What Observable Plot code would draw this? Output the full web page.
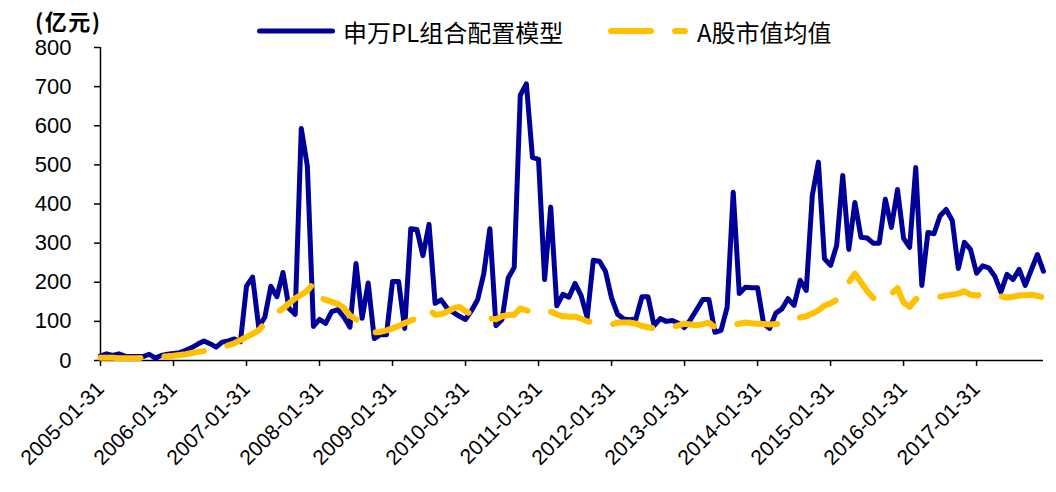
<!DOCTYPE html>
<html><head><meta charset="utf-8">
<script src="https://cdn.jsdelivr.net/npm/d3@7"></script>
<script src="https://cdn.jsdelivr.net/npm/@observablehq/plot@0.6"></script>
<style>
body{margin:0;background:#fff;}
#wrap{position:relative;width:1056px;height:492px;overflow:hidden;}
.t{position:absolute;font-family:"Noto Sans CJK SC","Liberation Sans",sans-serif;color:#000;line-height:1;white-space:nowrap;}
.s{position:absolute;}
</style></head><body><div id="wrap"></div>
<script>
// Series names
const seriesNames = ["申万PL组合配置模型", "A股市值均值"];
const unitLabel = "(亿元)";
// Monthly categories: month index 0 = 2005-01-31 ... 155 = 2017-12-31
const months = d3.utcMonth.range(new Date(Date.UTC(2005,0,1)), new Date(Date.UTC(2018,0,1)));
// 申万PL组合配置模型 (亿元), monthly
const modelValues = [
  12, 17, 13, 17, 11, 10, 10, 10, 16, 6, 13, 16, 18, 20, 26, 33, 42,
  50, 43, 34, 47, 50, 55, 48, 190, 213, 86, 110, 190, 163, 225, 133, 118, 593, 497, 87,
  105, 95, 125, 130, 111, 85, 248, 108, 198, 56, 66, 66, 202, 202, 82, 337, 335, 268, 348, 146,
  155, 133, 123, 113, 105, 128, 156, 222, 337, 89, 105, 210, 238, 678, 707, 519, 514, 207, 392, 140, 169, 162, 197, 166, 110, 256, 254, 228,
  160, 118, 106, 104, 106, 163, 163, 89, 107, 100, 102, 95, 84, 105, 130, 156, 156, 72, 77, 136, 430, 171, 187, 186, 186,
  94, 82, 121, 132, 158, 141, 205, 179, 422, 507, 260, 243, 294, 473, 284, 404, 315, 313, 300, 300, 412, 340, 437, 312, 289,
  493, 192, 327, 324, 370, 386, 358, 235, 302, 284, 223, 242, 237, 215, 175, 220, 207, 233, 192, 232, 271, 228
];
// A股市值均值 (亿元), monthly
const marketValues = [
  7, 7, 7, 6, 6, 6, 6, 7, 8, 9, 10, 11, 12, 14, 16, 19, 22,
  24, 26, 30, 34, 39, 44, 52, 60, 68, 77, 95, 110, 122, 133, 146, 159, 168, 178, 198,
  160, 155, 150, 145, 135, 115, 105, 100, 80, 72, 73, 77, 82, 88, 96, 102, 108, 112, 130, 117,
  118, 125, 133, 137, 126, 118, 113, 110, 108, 105, 113, 116, 117, 133, 128, 125, 124, 128, 125, 118, 113, 112, 112, 107, 100, 98, 96, 95,
  92, 97, 97, 97, 94, 88, 85, 82, 82, 83, 85, 90, 94, 92, 90, 93, 97, 85, 87, 90, 92, 94, 97, 95, 94,
  93, 92, 93, 94, 97, 103, 110, 113, 120, 128, 140, 146, 155, 170, 200, 222, 200, 178, 160, 150, 155, 170, 185, 148, 137,
  157, 156, 158, 160, 163, 166, 168, 171, 177, 168, 166, 170, 172, 168, 164, 161, 163, 166, 167, 168, 165, 161
];
// x tick labels (every January)
const xTickLabels = ["2005-01-31","2006-01-31","2007-01-31","2008-01-31","2009-01-31","2010-01-31","2011-01-31","2012-01-31","2013-01-31","2014-01-31","2015-01-31","2016-01-31","2017-01-31"];
const xTickIndex = [0,12,24,36,48,60,72,84,96,108,120,132,144];
const yTicks = [0,100,200,300,400,500,600,700,800];

const colors = ["#000099", "#FFC000"];

const modelRows = modelValues.map((v,i)=>({i, v, date: months[i]}));
const marketRows = marketValues.map((v,i)=>({i, v, date: months[i]}));

const chart = Plot.plot({
  width: 1056, height: 492,
  marginLeft: 100, marginRight: 13, marginTop: 47, marginBottom: 132,
  x: {type: "linear", domain: [0, months.length - 1]},
  y: {domain: [0, 800]},
  style: {fontFamily: "'Liberation Sans', Arial, sans-serif", fontSize: "22px", color: "#000", background: "#fff", overflow: "visible"},
  marks: [
    Plot.axisY({ticks: yTicks, tickSize: 6, tickPadding: 23, label: null, fontSize: 22, strokeWidth: 1.5}),
    Plot.axisX({ticks: xTickIndex, tickFormat: () => "", tickSize: 6, label: null, strokeWidth: 1.5}),
    Plot.text(xTickIndex, {x: d => d, y: () => 0, text: (d, k) => xTickLabels[k], rotate: -45, textAnchor: "end", lineAnchor: "middle", dx: 0, dy: 25, fontSize: 21, fill: "#000"}),
    Plot.ruleX([0], {stroke: "#000", strokeWidth: 1.5}),
    Plot.ruleY([0], {stroke: "#000", strokeWidth: 1.5}),
    Plot.line(modelRows, {x: "i", y: "v", stroke: colors[0], strokeWidth: 5, strokeLinejoin: "round", strokeLinecap: "round"}),
    Plot.line(marketRows, {x: "i", y: "v", stroke: colors[1], strokeWidth: 6, strokeDasharray: "40,24", strokeLinejoin: "round", strokeLinecap: "round"})
  ]
});
const wrap = document.getElementById("wrap");
wrap.appendChild(chart);

function addText(txt, left, top, size, bold, spacing){
  const d = document.createElement("div");
  d.className = "t"; d.textContent = txt;
  d.style.left = left + "px"; d.style.top = top + "px"; d.style.fontSize = size + "px";
  if (bold) d.style.fontWeight = "bold";
  if (spacing) d.style.letterSpacing = spacing + "px";
  wrap.appendChild(d);
}
function addSample(left, top, w, color, sw, dash){
  const ns = "http://www.w3.org/2000/svg";
  const s = document.createElementNS(ns, "svg");
  s.setAttribute("class","s"); s.setAttribute("width", w + 10); s.setAttribute("height", 14);
  s.style.left = (left - 5) + "px"; s.style.top = (top - 7) + "px";
  const l = document.createElementNS(ns, "line");
  l.setAttribute("x1", 5 + sw/2); l.setAttribute("x2", 5 + w - sw/2); l.setAttribute("y1", 7); l.setAttribute("y2", 7);
  l.setAttribute("stroke", color); l.setAttribute("stroke-width", sw); l.setAttribute("stroke-linecap","round");
  if (dash) l.setAttribute("stroke-dasharray", dash);
  s.appendChild(l); wrap.appendChild(s);
}
addText(unitLabel, 35, 9, 22, true, 1.5);
addSample(257, 31, 78, colors[0], 5);
addText(seriesNames[0], 343, 20, 24, false);
addSample(608, 31, 80, colors[1], 6, "40,24");
addText(seriesNames[1], 697, 20, 24, false);
</script></body></html>
